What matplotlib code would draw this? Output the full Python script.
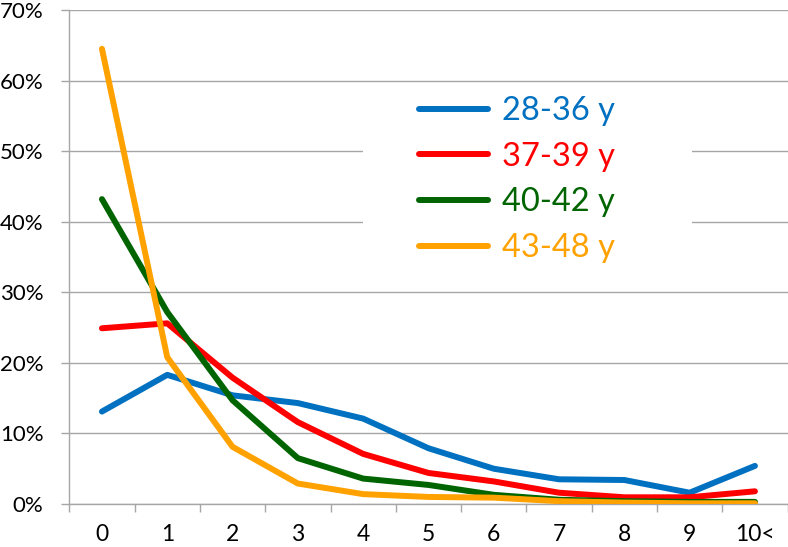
import matplotlib
matplotlib.use("Agg")
import matplotlib.pyplot as plt
from matplotlib.patches import Rectangle
from matplotlib.ticker import FixedLocator, NullFormatter, FixedFormatter

plt.rcParams['font.family'] = ['Lato', 'DejaVu Sans']

categories = ['0', '1', '2', '3', '4', '5', '6', '7', '8', '9', '10<']
series_names = ['28-36 y', '37-39 y', '40-42 y', '43-48 y']
s_28_36 = [13.1, 18.3, 15.4, 14.3, 12.1, 7.9, 5.0, 3.5, 3.4, 1.6, 5.4]
s_37_39 = [24.9, 25.6, 17.9, 11.6, 7.1, 4.4, 3.2, 1.6, 0.95, 0.95, 1.8]
s_40_42 = [43.2, 27.2, 14.7, 6.5, 3.6, 2.7, 1.3, 0.6, 0.4, 0.3, 0.3]
s_43_48 = [64.5, 20.8, 8.1, 2.9, 1.4, 1.0, 0.9, 0.4, 0.2, 0.1, 0.1]
y_ticks = [0, 10, 20, 30, 40, 50, 60, 70]
y_labels = ['0%', '10%', '20%', '30%', '40%', '50%', '60%', '70%']

colors = ['#0070C0', '#FF0000', '#006400', '#FFA200']
grid_c = '#A6A6A6'

W, H = 788, 547
fig = plt.figure(figsize=(W / 100, H / 100), dpi=100)
ax = fig.add_axes([69.3 / W, 1 - 504 / H, (787.6 - 69.3) / W, (504 - 10) / H])

xs = [i + 0.5 for i in range(len(categories))]
handles = []
for name, vals, c in zip(series_names, [s_28_36, s_37_39, s_40_42, s_43_48], colors):
    h, = ax.plot(xs, vals, color=c, lw=4.3, solid_capstyle='round',
                 solid_joinstyle='round', zorder=3, label=name)
    handles.append(h)

ax.set_xlim(0, len(categories))
ax.set_ylim(0, 70)

# y axis
ax.set_yticks(y_ticks)
ax.set_yticklabels(y_labels)
ax.yaxis.grid(True, color=grid_c, lw=1.0)
ax.set_axisbelow(True)
ax.tick_params(axis='y', length=6, width=1.0, color=grid_c, pad=12.5,
               labelsize=16, labelcolor='black')

# x axis: ticks at boundaries, labels at centers
ax.xaxis.set_major_locator(FixedLocator(list(range(len(categories) + 1))))
ax.xaxis.set_major_formatter(NullFormatter())
ax.xaxis.set_minor_locator(FixedLocator(xs))
ax.xaxis.set_minor_formatter(FixedFormatter(categories))
ax.tick_params(axis='x', which='major', length=5.5, width=1.0, color=grid_c)
ax.tick_params(axis='x', which='minor', length=0, pad=14.5, labelsize=16.5,
               labelcolor='black')

for s in ['top', 'right']:
    ax.spines[s].set_visible(False)
for s in ['left', 'bottom']:
    ax.spines[s].set_color(grid_c)
    ax.spines[s].set_linewidth(1.0)

# legend background box
ax.add_patch(Rectangle((0.409, 0.478), 0.867 - 0.409, 0.842 - 0.478,
                       transform=ax.transAxes, facecolor='white',
                       edgecolor='none', zorder=1))

leg = ax.legend(handles=handles, loc='upper left',
                bbox_to_anchor=((419 - 69.3) / 718.3, (504 - 96) / 494),
                frameon=False, fontsize=23.5, handlelength=2.1,
                handletextpad=0.45, labelspacing=0.48, borderpad=0,
                borderaxespad=0, labelcolor='linecolor')
leg.set_zorder(4)

fig.savefig('out.png', dpi=100)
